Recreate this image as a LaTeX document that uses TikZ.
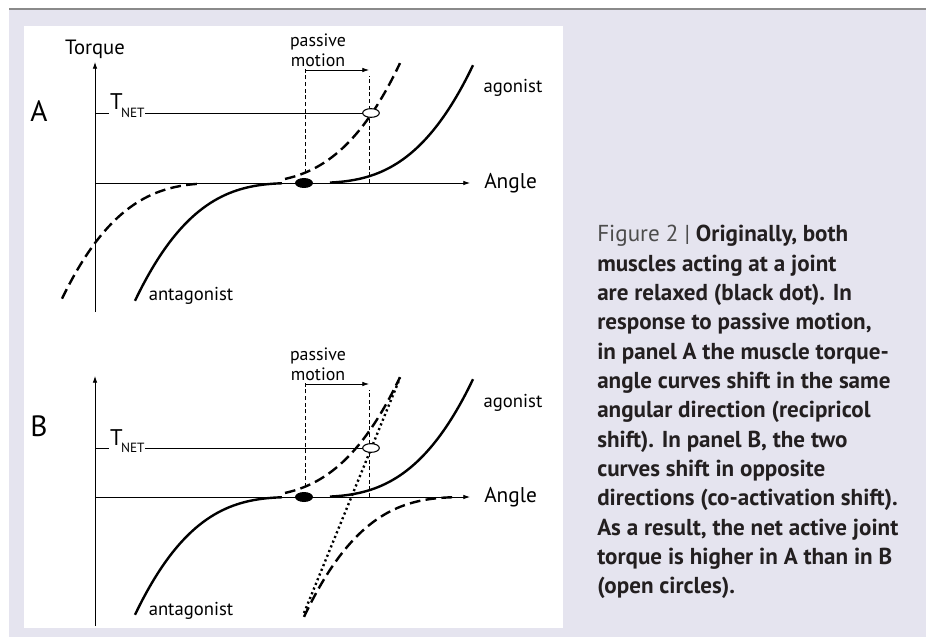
\documentclass[tikz,border=0pt]{standalone}
\usepackage{fontspec}
\setmainfont{PT Sans}
\usetikzlibrary{arrows.meta,positioning,shapes.geometric}

\definecolor{boxbg}{HTML}{E5E4EF}
\definecolor{rulegray}{HTML}{8A8A8A}
\definecolor{captxt}{HTML}{231F20}

\tikzset{
    axis/.style={line width=0.6pt,-{Latex[length=5pt,width=3.4pt]}},
    muscle/.style={line width=1.8pt},
    shifted/.style={muscle,dash pattern=on 8pt off 4pt},
    summed/.style={muscle,dash pattern=on 1.6pt off 2.2pt},
    guide/.style={line width=0.5pt,dash pattern=on 3pt off 2pt},
    lbl/.style={inner sep=0pt,font=\fontsize{14}{16}\selectfont},
    relaxed/.style={ellipse,fill=black,minimum width=13.5pt,minimum height=7.5pt,inner sep=0pt},
    netpt/.style={ellipse,draw,fill=white,line width=0.8pt,minimum width=12.5pt,minimum height=6.5pt,inner sep=0pt},
}

\begin{document}
\begin{tikzpicture}[x=0.75pt,y=0.75pt,
    declare function={tq(\d)=24.4*(\d/100)*(\d/100)*(\d/100);}]
    \useasboundingbox (0,0) rectangle (926,637);
    \fill[white] (0,0) rectangle (926,637);
    \fill[boxbg] (9,0) rectangle (926,628);
    \draw[rulegray,line width=0.8pt] (9,628) -- (926,628);
    \fill[white] (24,9) rectangle (563,611);

    % both panels: axes, labels, the two curves they share
    \foreach \p/\oy/\tn in {A/454/70,B/140/49}{
        \begin{scope}[shift={(95,\oy)}]
            \coordinate (o\p) at (0,0);
            \coordinate (top\p) at (0,121);
            \coordinate (bot\p) at (0,-129);
            \coordinate (end\p) at (375,0);
            \coordinate (tl\p) at (0,\tn);
            \coordinate (tr\p) at (276,\tn);
            \coordinate (dot\p) at (209,0);
            \draw[axis] (bot\p) -- (top\p);
            \draw[axis] (o\p) -- (end\p);
            \draw[line width=0.6pt] (tl\p) -- (tr\p);
            \node[lbl,fill=white,inner sep=0.6pt,anchor=base west] (tnet\p) at (14,\tn+3)
                {{\fontsize{17}{17}\selectfont T}\kern-1.2pt\raisebox{-5.5pt}{\fontsize{10}{10}\selectfont NET}};
            \node[lbl,font=\fontsize{22}{22}\selectfont,anchor=base west] (panel\p) at (-65,61) {\p};
            \node[lbl,font=\fontsize{16}{16}\selectfont,right=10.5pt of end\p] (angle\p) {Angle};
            \node[lbl,anchor=base] (ago\p) at (418,90) {agonist};
            \node[lbl,anchor=base] (anta\p) at (96,-118) {antagonist};
            \node[lbl,font=\fontsize{13.4}{15}\selectfont,align=center] (pm\p) at (223,133) {passive\\motion};
            \coordinate (ms\p) at (210,{tq(75)});
            \coordinate (mt\p) at (210,115);
            \coordinate (ns\p) at (274,0);
            \coordinate (nt\p) at (274,107);
            \coordinate (pa\p) at (211,113);
            \coordinate (pb\p) at (274,113);
            \draw[guide] (ms\p) -- (mt\p);
            \draw[guide] (ns\p) -- (nt\p);
            \draw[line width=0.5pt,-{Latex[length=5pt,width=3.4pt]}] (pa\p) -- (pb\p);
            \draw[muscle] plot[domain=-169:-22,samples=40] ({209+\x},{tq(\x)});
            \draw[muscle] plot[domain=26:169,samples=40] ({209+\x},{tq(\x)});
            \draw[shifted] plot[domain=55:170,samples=40] ({135+\x},{tq(\x)});
        \end{scope}
    }
    \node[lbl,font=\fontsize{15.5}{16}\selectfont,above=2pt of topA] (torque) {Torque};

    % A: antagonist shifted left too
    \begin{scope}[shift={(oA)}]
        \draw[shifted] plot[domain=-168:-30,samples=40] ({135+\x},{tq(\x)});
    \end{scope}

    % B: antagonist shifted right, sum dotted
    \begin{scope}[shift={(oB)}]
        \coordinate (sb) at (209,-116);
        \coordinate (st) at (305,119);
        \draw[shifted] plot[domain=-170:-19,samples=40] ({379+\x},{tq(\x)});
        \draw[summed] (sb) -- (st);
    \end{scope}

    \foreach \p in {A,B}{
        \node[relaxed] (rest\p) at (dot\p) {};
        \node[netpt] (net\p) at (tr\p) {};
    }

    \node[anchor=north west,align=left,inner sep=0pt,text=captxt,
          font=\fontsize{17.3}{22}\selectfont\bfseries] (caption) at (597,412) {%
        {\mdseries\color{black!70}Figure 2 |} Originally, both\\
        muscles acting at a joint\\
        are relaxed (black dot). In\\
        response to passive motion,\\
        in panel A the muscle torque-\\
        angle curves shift in the same\\
        angular direction (recipricol\\
        shift). In panel B, the two\\
        curves shift in opposite\\
        directions (co-activation shift).\\
        As a result, the net active joint\\
        torque is higher in A than in B\\
        (open circles).};
\end{tikzpicture}
\end{document}
